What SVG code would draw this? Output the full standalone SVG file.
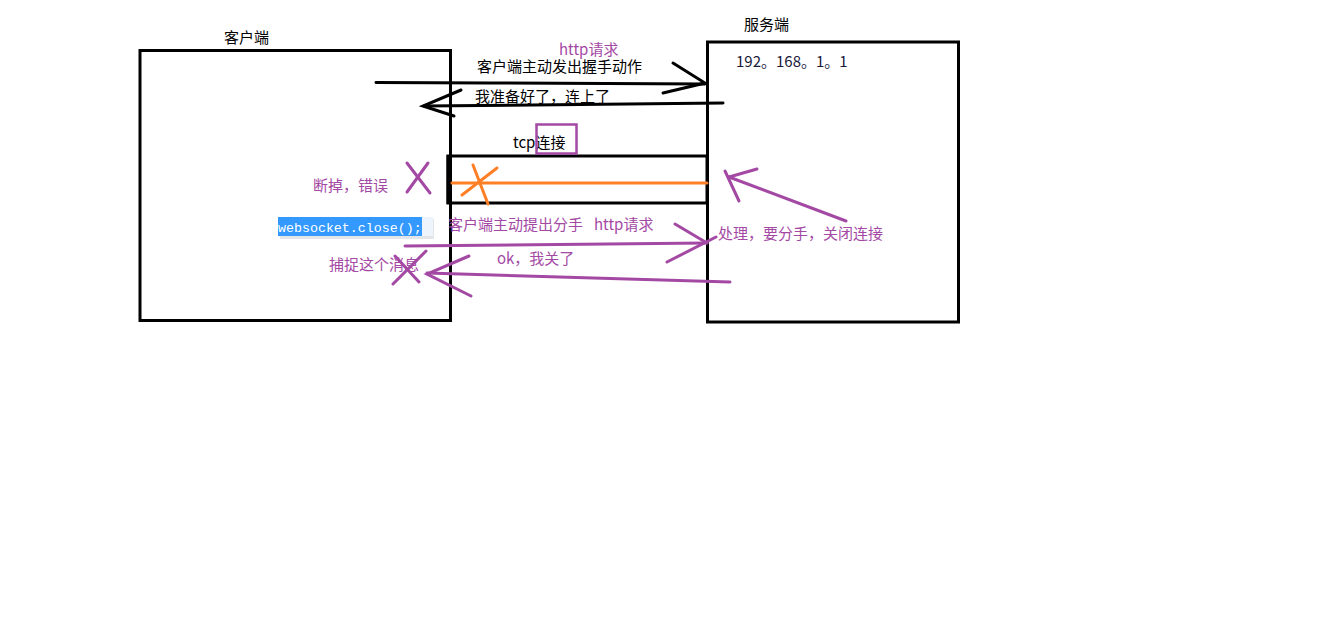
<svg xmlns="http://www.w3.org/2000/svg" width="1330" height="632" viewBox="0 0 1330 632">
<style>
.box{fill:none;stroke:#000;stroke-width:3}
.blk{stroke:#000;stroke-width:3;fill:none;stroke-linecap:round}
.pur{stroke:#a349a4;stroke-width:3;fill:none;stroke-linecap:round}
.org{stroke:#ff7f27;stroke-width:3;fill:none;stroke-linecap:round}
.t{font-family:"Microsoft YaHei","Noto Sans CJK SC","Noto Sans",sans-serif;font-size:15px}
.tb{fill:#000}
.tp{fill:#a349a4}
.code{font-family:"Liberation Mono","DejaVu Sans Mono",monospace;font-size:13.3px;fill:#fff}
</style>
<rect width="1330" height="632" fill="#fff"/>
<g id="client">
<rect class="box" x="140" y="50.5" width="310.5" height="270"/>
<text class="t tb" x="224" y="43" font-size="14.5">客户端</text>
</g>
<g id="server">
<rect class="box" x="707.5" y="42" width="251" height="280"/>
<text class="t tb" x="744" y="30" font-size="14.5">服务端</text>
<text class="t" x="736" y="67" font-size="14" fill="#1a1a3a">192。168。1。1</text>
</g>
<g id="tcp">
<rect class="box" x="448" y="156" width="259" height="47"/>
<line x1="449" y1="155" x2="449" y2="204" stroke="#000" stroke-width="5"/>
<text class="t tb" x="513" y="148">tcp连接</text>
<rect x="536.5" y="124.5" width="40" height="29" fill="none" stroke="#a349a4" stroke-width="2.5"/>
<line class="org" x1="452" y1="183" x2="707" y2="183"/>
<line class="org" x1="473" y1="165" x2="488" y2="204"/>
<line class="org" x1="462" y1="195" x2="497" y2="168"/>
</g>
<g id="close-code">
<rect x="280" y="219" width="154" height="20" fill="#c8ccd4" opacity="0.5"/>
<rect x="278" y="217" width="155" height="19" fill="#eef4fc"/>
<rect x="278" y="217" width="144" height="19" fill="#3399ff"/>
<text class="code" x="278" y="231.5">websocket.close();</text>
</g>
<g id="connectors">
<polyline class="blk" points="376,82.5 490,83 705,84"/>
<polyline class="blk" points="673,63 705,83 663,93"/>
<line class="blk" x1="723" y1="103" x2="424" y2="106"/>
<polyline class="blk" points="461,90 423,106 454,116"/>
<line class="pur" x1="405" y1="246" x2="707" y2="243"/>
<polyline class="pur" points="675,224 707,243"/>
<line class="pur" x1="667" y1="262" x2="716" y2="237"/>
<line class="pur" x1="730" y1="282" x2="427" y2="273"/>
<polyline class="pur" points="469,256 427,274 471,296"/>
<line class="pur" x1="846" y1="221" x2="729" y2="177"/>
<line class="pur" x1="757" y1="169" x2="729" y2="177"/>
<line class="pur" x1="725" y1="171" x2="739" y2="201"/>
</g>
<g id="marks">
<line class="pur" x1="407" y1="163" x2="430" y2="193"/>
<line class="pur" x1="428" y1="163" x2="407" y2="192"/>
<line class="pur" x1="395" y1="256" x2="419" y2="282"/>
<line class="pur" x1="426" y1="251" x2="393" y2="284"/>
</g>
<g id="labels">
<text class="t tp" x="559" y="54.5">http请求</text>
<text class="t tb" x="477" y="71.5">客户端主动发出握手动作</text>
<text class="t tb" x="475" y="102">我准备好了，连上了</text>
<text class="t tp" x="313" y="191">断掉，错误</text>
<text class="t tp" x="448" y="230">客户端主动提出分手<tspan x="594">http请求</tspan></text>
<text class="t tp" x="497" y="264">ok，我关了</text>
<text class="t tp" x="329" y="270">捕捉这个消息</text>
<text class="t tp" x="718" y="239">处理，要分手，关闭连接</text>
</g>
</svg>
